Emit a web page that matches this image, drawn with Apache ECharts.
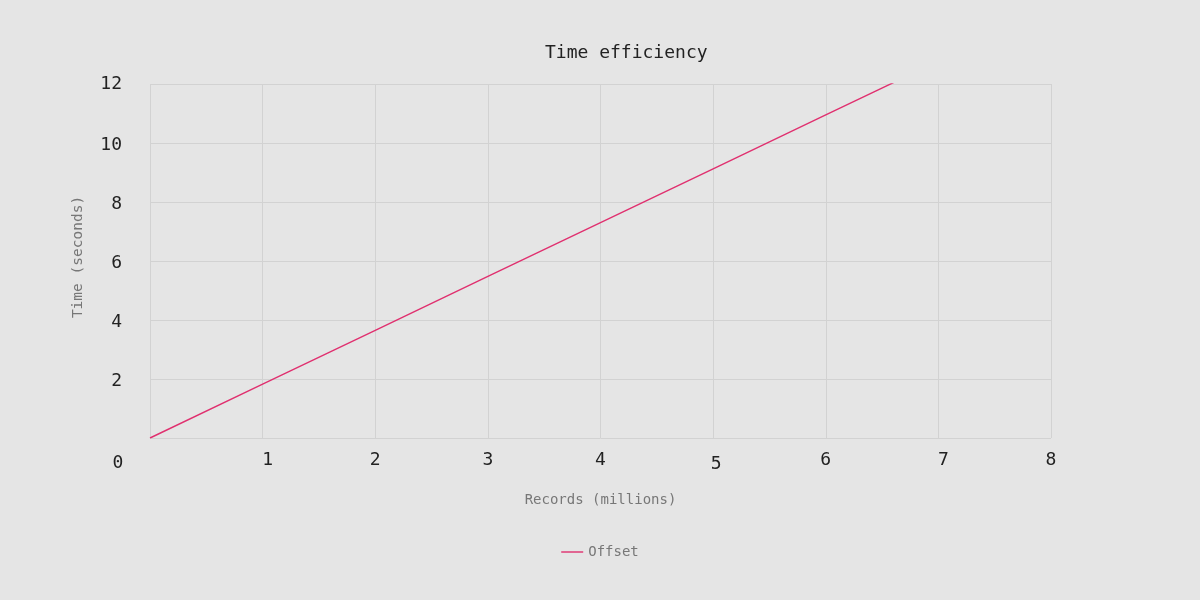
<!DOCTYPE html>
<html>
<head>
<meta charset="utf-8">
<script src="https://cdn.jsdelivr.net/npm/echarts@6/dist/echarts.min.js"></script>
<style>html,body{margin:0;padding:0;background:#e5e5e5}#c{width:1200px;height:600px}</style>
</head>
<body>
<div id="c"></div>
<script>
const title = 'Time efficiency';
const xName = 'Records (millions)';
const yName = 'Time (seconds)';
const seriesName = 'Offset';
const xValues = [0, 1, 2, 3, 4, 5, 6, 7, 8];
const timeValues = [0, 1.825, 3.65, 5.475, 7.3, 9.125, 10.95, 12.775, 14.6];

const mono = '"DejaVu Sans Mono", "Liberation Mono", monospace';
const chart = echarts.init(document.getElementById('c'));
const base = { fontFamily: mono, fontSize: 18, color: '#222' };
const xRich = {
  t: base,
  t0: Object.assign({}, base, { padding: [3, 64, 0, 0] }),
  t1: Object.assign({}, base, { padding: [0, 0, 0, 10] }),
  t5: Object.assign({}, base, { padding: [4, 0, 0, 6] }),
  t7: Object.assign({}, base, { padding: [0, 0, 0, 10] })
};
const yRich = {
  t: Object.assign({}, base, { padding: [4, 0, 0, 0] }),
  t12: base
};
chart.setOption({
  backgroundColor: '#e5e5e5',
  animation: false,
  title: {
    text: title, left: 540, top: 39,
    textStyle: { fontFamily: mono, fontSize: 18, fontWeight: 'normal', color: '#222' }
  },
  legend: {
    data: [seriesName], bottom: 36, left: 'center', icon: 'path://M0,0 L22,0 L22,1.4 L0,1.4 Z',
    itemWidth: 22, itemHeight: 2, itemGap: 8,
    textStyle: { fontFamily: mono, fontSize: 14, color: '#777' }
  },
  grid: { left: 150, right: 149, top: 84, bottom: 162 },
  xAxis: {
    type: 'value', min: 0, max: 8, interval: 1,
    name: xName, nameLocation: 'middle', nameGap: 55,
    nameTextStyle: { fontFamily: mono, fontSize: 14, color: '#777' },
    axisLine: { show: false }, axisTick: { show: false },
    splitLine: { show: true, lineStyle: { color: '#d2d2d2', width: 1 } },
    axisLabel: {
      margin: 13,
      formatter: v => {
        const key = ['t0', 't1', 't5', 't7'].includes('t' + v) ? 't' + v : 't';
        return '{' + key + '|' + v + '}';
      },
      rich: xRich
    }
  },
  yAxis: {
    type: 'value', min: 0, max: 12, interval: 2,
    name: yName, nameLocation: 'middle', nameGap: 64, nameRotate: 90,
    nameTextStyle: { fontFamily: mono, fontSize: 14.5, color: '#777', padding: [0, 0, 0, 8] },
    axisLine: { show: false }, axisTick: { show: false },
    splitLine: { show: true, lineStyle: { color: '#d2d2d2', width: 1 } },
    axisLabel: {
      margin: 28,
      formatter: v => (v === 0 ? '' : '{' + (v === 12 ? 't12' : 't') + '|' + v + '}'),
      rich: yRich
    }
  },
  series: [{
    name: seriesName, type: 'line', showSymbol: false, clip: true,
    data: xValues.map((x, i) => [x, timeValues[i]]),
    lineStyle: { color: '#e0306f', width: 1.4 },
    itemStyle: { color: '#e0306f' }
  }]
});
</script>
</body>
</html>
